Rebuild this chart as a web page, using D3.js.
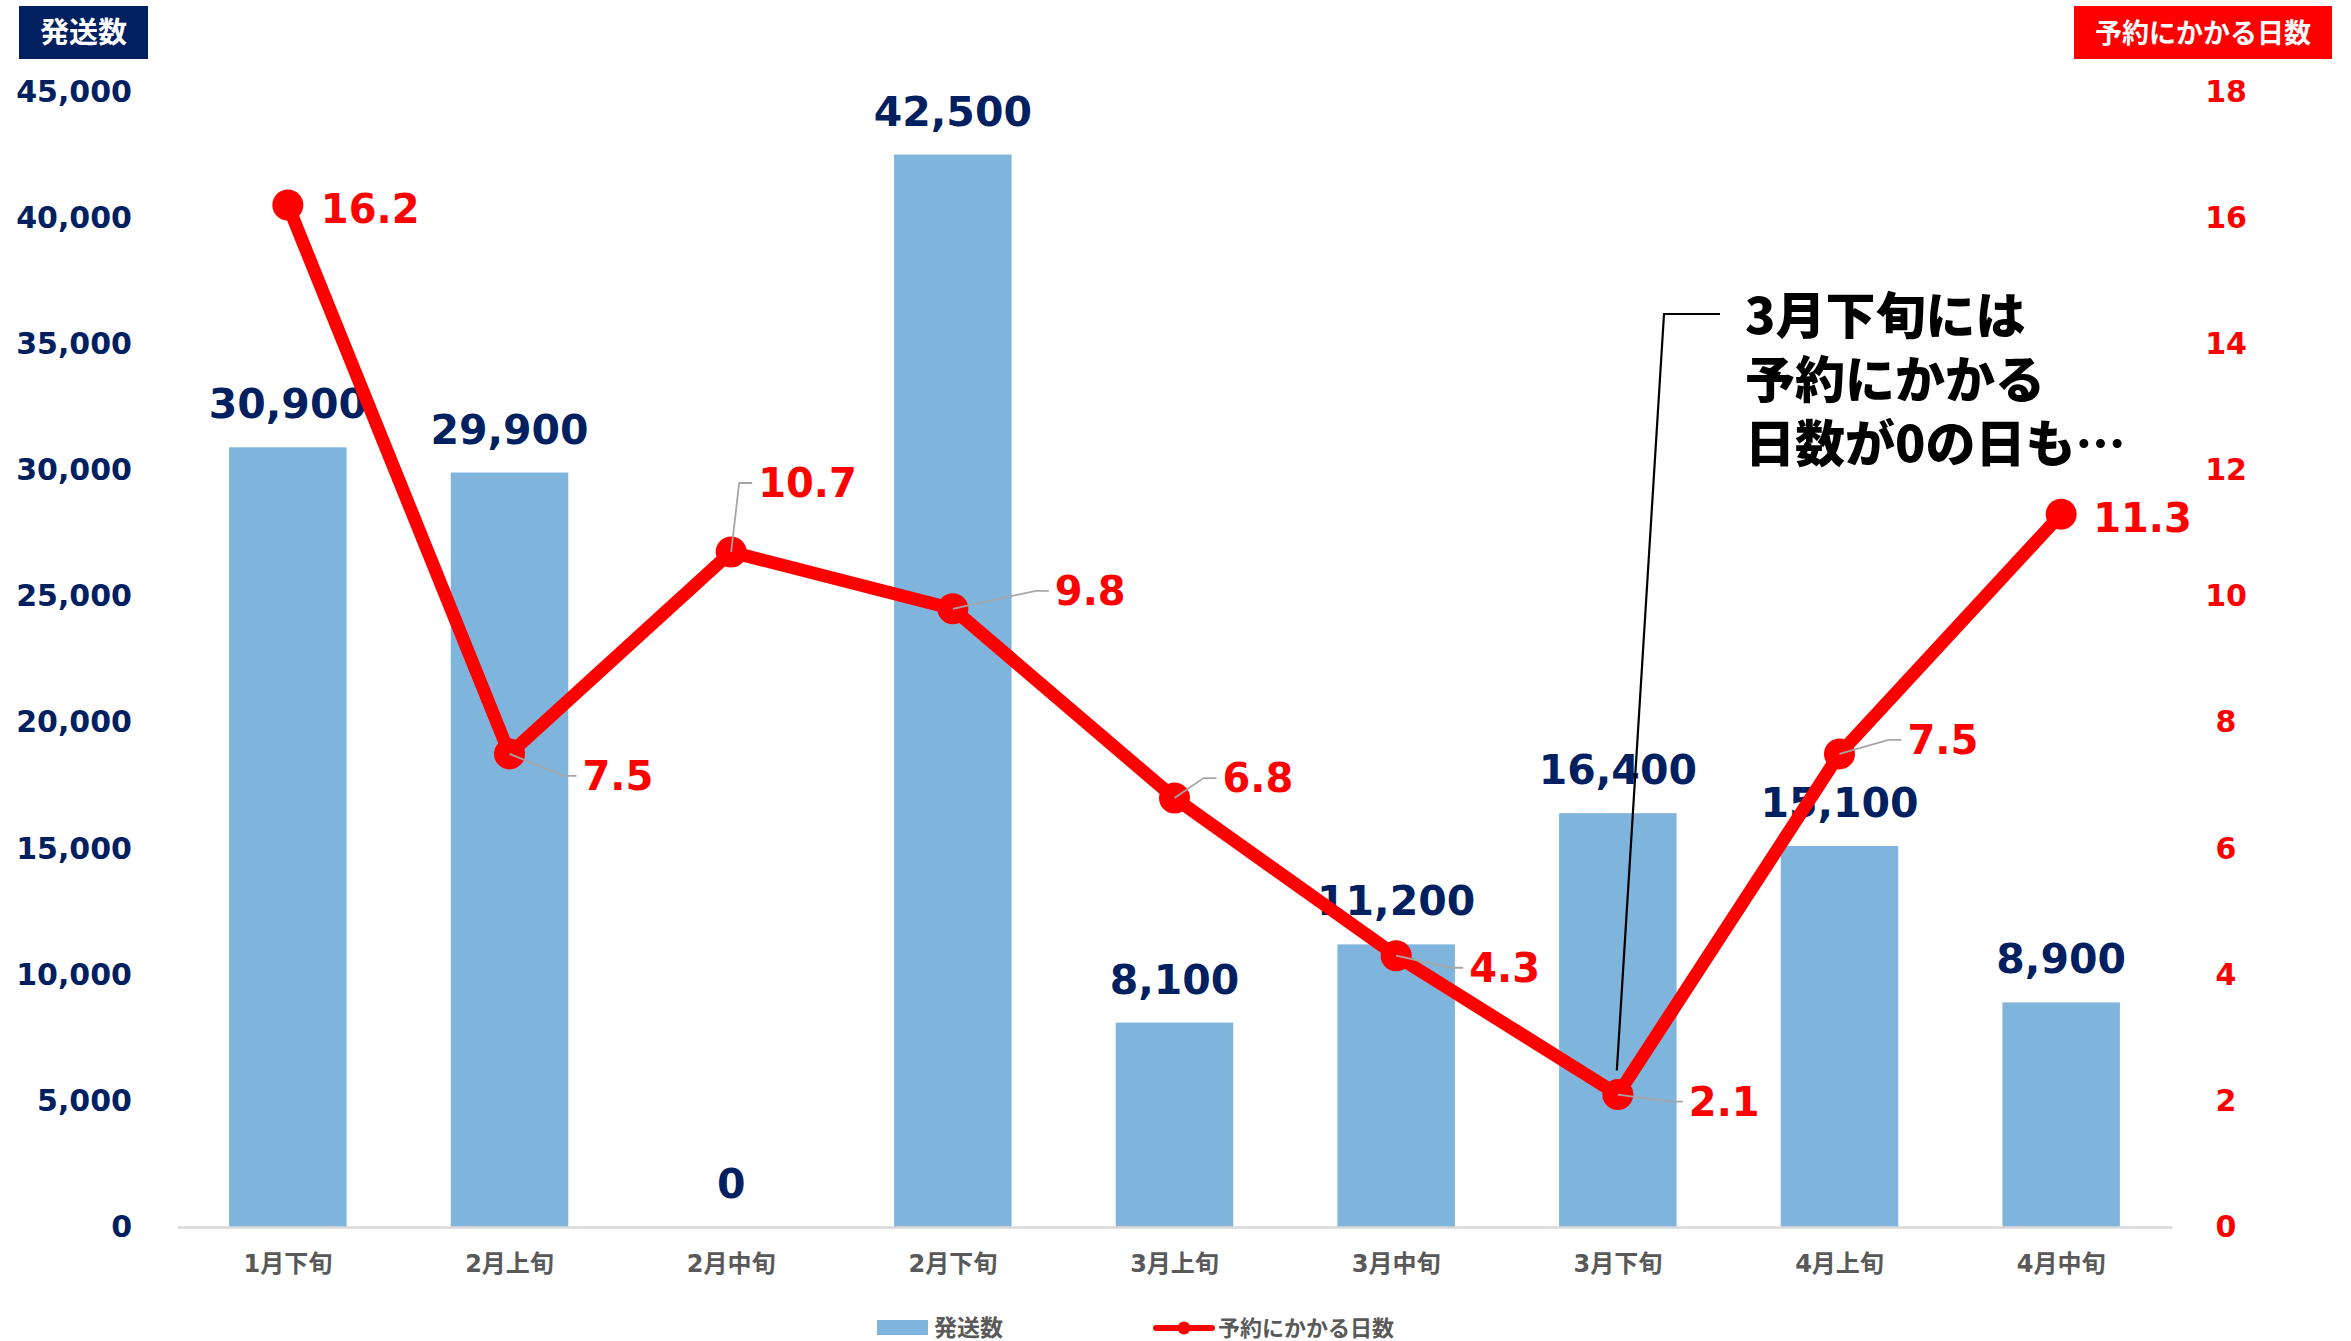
<!DOCTYPE html>
<html>
<head>
<meta charset="utf-8">
<title>発送数と予約にかかる日数</title>
<script src="https://cdn.jsdelivr.net/npm/d3@7"></script>
<style>
  body { margin: 0; background: #fff; }
  text { font-family: "DejaVu Sans", "Noto Sans CJK JP", sans-serif; font-weight: bold; }
</style>
</head>
<body>
<script>
// data
var categories = ["1月下旬", "2月上旬", "2月中旬", "2月下旬", "3月上旬", "3月中旬", "3月下旬", "4月上旬", "4月中旬"]
var shipped = [30900, 29900, 0, 42500, 8100, 11200, 16400, 15100, 8900]
var bookingDays = [16.2, 7.5, 10.7, 9.8, 6.8, 4.3, 2.1, 7.5, 11.3]
var leftTicks = [0, 5000, 10000, 15000, 20000, 25000, 30000, 35000, 40000, 45000]
var rightTicks = [0, 2, 4, 6, 8, 10, 12, 14, 16, 18]
var noteLines = ["3月下旬には", "予約にかかる", "日数が0の日も…"]

// where each red label sits relative to its point (dx = left edge of text, dy = middle), and whether it has a leader
var lineLabelPos = [
  {dx: 33, dy: 4, lead: false},
  {dx: 73, dy: 22, lead: true},
  {dx: 27, dy: -69, lead: true},
  {dx: 102, dy: -18, lead: true},
  {dx: 48, dy: -20, lead: true},
  {dx: 73, dy: 12, lead: true},
  {dx: 71, dy: 7, lead: true},
  {dx: 68, dy: -14, lead: true},
  {dx: 32, dy: 3, lead: false}
]

var w = 2351, h = 1341
var navy = "#002060", red = "#FF0000", barColor = "#7FB5DD", grey = "#595959"

var svg = d3.select("body").append("svg").attr("width", w).attr("height", h)
svg.append("rect").attr("width", w).attr("height", h).attr("fill", "#fff")

// scales
var x = d3.scaleBand().domain(categories).range([177, 2172]).paddingInner(0.47).paddingOuter(0.235)
var yL = d3.scaleLinear().domain([0, 45000]).range([1227, 91.5])
var yR = d3.scaleLinear().domain([0, 18]).range([1227, 91.5])
var cx = function(i) { return x(categories[i]) + x.bandwidth() / 2 }

// bars
svg.selectAll(".bar").data(shipped).enter().append("rect")
  .attr("class", "bar")
  .attr("x", function(d, i) { return x(categories[i]) })
  .attr("y", function(d) { return yL(d) })
  .attr("width", x.bandwidth())
  .attr("height", function(d) { return yL(0) - yL(d) })
  .attr("fill", barColor)

// x axis
var xAxis = svg.append("g").attr("transform", "translate(0,1227)")
  .call(d3.axisBottom(x).tickSize(0).tickSizeOuter(0).tickPadding(28))
xAxis.select(".domain").attr("stroke", "#D9D9D9").attr("stroke-width", 2.5)
xAxis.selectAll("text").attr("fill", grey).style("font-size", "24px")

// left axis
var lAxis = svg.append("g").attr("transform", "translate(177,0)")
  .call(d3.axisLeft(yL).tickValues(leftTicks).tickSize(0).tickPadding(45).tickFormat(d3.format(",")))
lAxis.select(".domain").remove()
lAxis.selectAll("text").attr("fill", navy).style("font-size", "30px")

// right axis
var rAxis = svg.append("g").attr("transform", "translate(2172,0)")
  .call(d3.axisRight(yR).tickValues(rightTicks).tickSize(0).tickPadding(54))
rAxis.select(".domain").remove()
rAxis.selectAll("text").attr("fill", red).attr("text-anchor", "middle").style("font-size", "30px")

// axis title boxes
svg.append("rect").attr("x", 19).attr("y", 6).attr("width", 129).attr("height", 53).attr("fill", navy)
svg.append("text").attr("x", 83.5).attr("y", 33).attr("dy", "0.36em").attr("text-anchor", "middle")
  .attr("fill", "#fff").style("font-size", "29px").text("発送数")
svg.append("rect").attr("x", 2074).attr("y", 6).attr("width", 258).attr("height", 53).attr("fill", red)
svg.append("text").attr("x", 2203).attr("y", 33).attr("dy", "0.36em").attr("text-anchor", "middle")
  .attr("fill", "#fff").style("font-size", "27px").text("予約にかかる日数")

// bar value labels
svg.selectAll(".barlabel").data(shipped).enter().append("text")
  .attr("x", function(d, i) { return cx(i) })
  .attr("y", function(d) { return yL(d) - 29 })
  .attr("text-anchor", "middle")
  .attr("fill", navy).style("font-size", "41px")
  .text(function(d) { return d3.format(",")(d) })

// annotation leader (drawn under the line)
var p6 = [cx(6), yR(bookingDays[6])]
svg.append("polyline")
  .attr("points", [[1720, 314], [1664, 314], [p6[0] - 1, p6[1] - 24]].join(" "))
  .attr("fill", "none").attr("stroke", "#000").attr("stroke-width", 2.2)

// red line + markers
var line = d3.line().x(function(d, i) { return cx(i) }).y(function(d) { return yR(d) })
svg.append("path").datum(bookingDays).attr("d", line)
  .attr("fill", "none").attr("stroke", red).attr("stroke-width", 13).attr("stroke-linejoin", "round")
svg.selectAll(".dot").data(bookingDays).enter().append("circle")
  .attr("cx", function(d, i) { return cx(i) })
  .attr("cy", function(d) { return yR(d) })
  .attr("r", 15.5).attr("fill", red)

// red label leaders
var leadIdx = d3.range(bookingDays.length).filter(function(i) { return lineLabelPos[i].lead })
svg.selectAll(".lead").data(leadIdx).enter().append("polyline")
  .attr("points", function(i) {
    var px = cx(i), py = yR(bookingDays[i]), o = lineLabelPos[i]
    return [[px, py], [px + o.dx - 19, py + o.dy], [px + o.dx - 6, py + o.dy]].join(" ")
  })
  .attr("fill", "none").attr("stroke", "#A6A6A6").attr("stroke-width", 1.8)

// red value labels
svg.selectAll(".linelabel").data(bookingDays).enter().append("text")
  .attr("x", function(d, i) { return cx(i) + lineLabelPos[i].dx })
  .attr("y", function(d, i) { return yR(d) + lineLabelPos[i].dy })
  .attr("dy", "0.36em")
  .attr("fill", red).style("font-size", "40px")
  .text(function(d) { return d3.format(".1f")(d) })

// annotation text, one text block with a tspan per line
var note = svg.append("text")
  .attr("fill", "#000").style("font-size", "50px").style("font-weight", "900")
  .style("font-family", "'Noto Sans CJK JP', sans-serif")
note.selectAll("tspan").data(noteLines).enter().append("tspan")
  .attr("x", 1745)
  .attr("y", function(d, i) { return 334 + i * 64 })
  .text(function(d) { return d })

// legend
var lg = svg.append("g").attr("transform", "translate(0,1328)")
lg.append("rect").attr("x", 877).attr("y", -8).attr("width", 51).attr("height", 15).attr("fill", barColor)
lg.append("text").attr("x", 934).attr("y", 0).attr("dy", "0.36em").attr("fill", grey)
  .style("font-size", "23px").text("発送数")
lg.append("line").attr("x1", 1156).attr("x2", 1212).attr("y1", 0).attr("y2", 0)
  .attr("stroke", red).attr("stroke-width", 6).attr("stroke-linecap", "round")
lg.append("circle").attr("cx", 1184).attr("cy", 0).attr("r", 6.5).attr("fill", red)
lg.append("text").attr("x", 1218).attr("y", 0).attr("dy", "0.36em").attr("fill", grey)
  .style("font-size", "22px").text("予約にかかる日数")
</script>
</body>
</html>
